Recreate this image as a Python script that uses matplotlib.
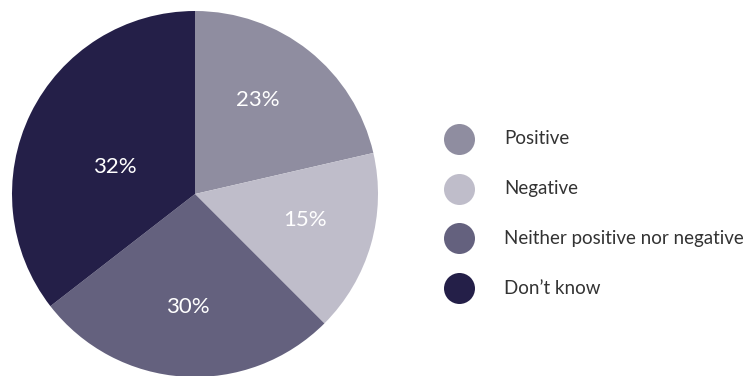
import matplotlib
matplotlib.use('Agg')
import matplotlib.pyplot as plt
import numpy as np

# wedge sizes as drawn (angles) and the printed labels
categories = ['Positive', 'Negative', 'Neither positive nor negative', 'Don\u2019t know']
sizes = [21.4, 16.1, 27.0, 35.5]
pct_labels = ['23%', '15%', '30%', '32%']
colors = ['#8f8da0', '#bfbdca', '#64617e', '#241f48']

# label placement: distance from centre (fraction of radius), angle shift in degrees
lab_dist = [0.62, 0.62, 0.62, 0.46]
lab_shift = [4.7, 2.7, 0.0, 7.6]

plt.rcParams['font.family'] = ['Lato', 'DejaVu Sans']

fig = plt.figure(figsize=(7.5, 3.76), dpi=100)

# pie axes, radius 183 px, centre at (195, 194) from top-left
r = 183
ax = fig.add_axes([(195 - r) / 750, (376 - 194 - r) / 376, 2 * r / 750, 2 * r / 376])
wedges, _ = ax.pie(sizes, colors=colors, startangle=90, counterclock=False,
                   radius=1, wedgeprops=dict(linewidth=0))
ax.set_xlim(-1, 1)
ax.set_ylim(-1, 1)
ax.set_aspect('equal')
ax.axis('off')

for w, lab, d, s in zip(wedges, pct_labels, lab_dist, lab_shift):
    ang = np.deg2rad((w.theta1 + w.theta2) / 2 + s)
    ax.text(d * np.cos(ang), d * np.sin(ang), lab, color='white', fontsize=16,
            ha='center', va='center')

# legend drawn by hand
lax = fig.add_axes([0, 0, 1, 1])
lax.set_xlim(0, 750)
lax.set_ylim(376, 0)
lax.axis('off')
for i, (cat, col) in enumerate(zip(categories, colors)):
    y = 139 + 49.7 * i
    lax.scatter([459], [y], s=(31 * 0.72) ** 2, color=col, linewidths=0)
    lax.text(504, y, cat, fontsize=13.5, color='#333333', ha='left', va='center')

fig.savefig('out.png', dpi=100)
